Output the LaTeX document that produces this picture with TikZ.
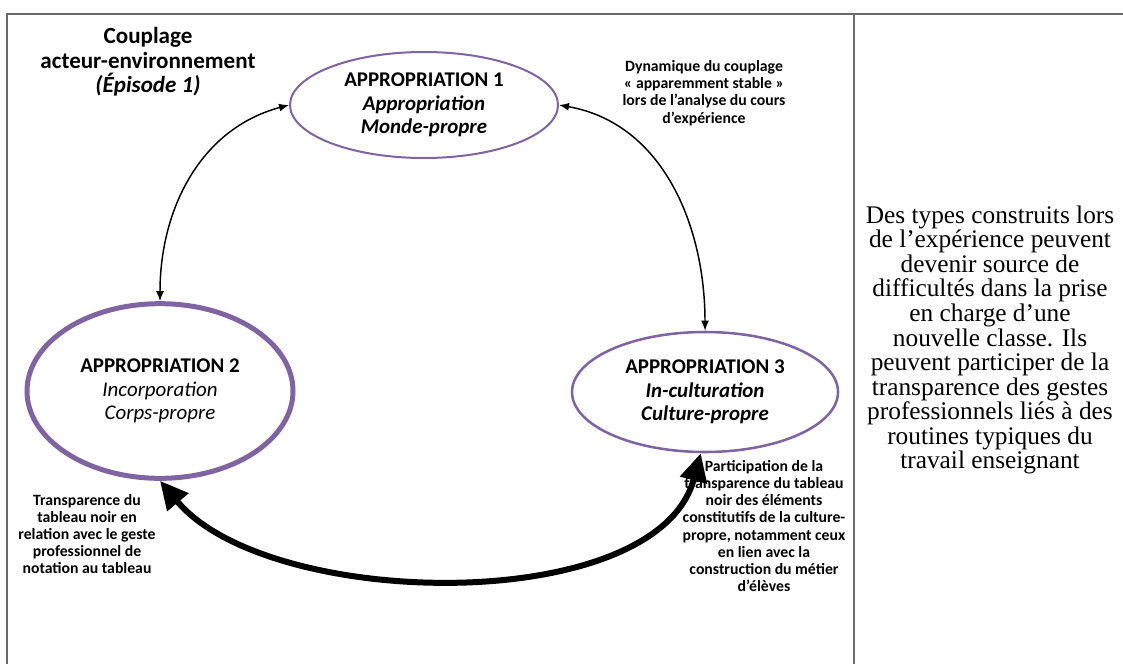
\documentclass[tikz,border=0pt]{standalone}
\usepackage{fontspec}
\setmainfont{Liberation Serif}
\newfontfamily\calibri{Carlito}
\usetikzlibrary{arrows.meta,shapes.geometric}
\definecolor{appviolet}{HTML}{8064A2}
\definecolor{framegray}{HTML}{6A6A6A}

\begin{document}
\begin{tikzpicture}[x=0.75pt, y=-0.75pt,
    appr/.style={ellipse, draw=appviolet, inner sep=0pt, align=center,
      font=\calibri\fontsize{15.7}{17.5}\selectfont},
    smalllab/.style={align=center, font=\calibri\bfseries\fontsize{11.8}{12.9}\selectfont},
    thinarrow/.style={{Latex[length=7.5pt,width=6pt]}-{Latex[length=7.5pt,width=6pt]}, line width=1.1pt},
    thickarrow/.style={{Triangle[length=21pt,width=20pt]}-{Triangle[length=21pt,width=20pt]}, line width=4.5pt}]
  % page size (1px = 0.75pt)
  \useasboundingbox (0,0) rectangle (1123,664);

  % Frame and column divider
  \draw[framegray, line width=1.5pt] (7,664) -- (7,14) -- (1123,14);
  \draw[framegray, line width=1.5pt] (854,14) -- (854,664);

  % Title
  \node[align=center, font=\calibri\bfseries\fontsize{17.3}{18.4}\selectfont] (title) at (148,62)
    {Couplage\\acteur-environnement\\\textit{(Épisode 1)}};

  % The three appropriations
  \node[appr, line width=1.5pt, minimum width=201pt, minimum height=79.5pt] (a1) at (424,105)
    {\textbf{APPROPRIATION 1}\\\textbf{\textit{Appropriation}}\\\textbf{\textit{Monde-propre}}};
  \node[appr, line width=3.75pt, minimum width=199.5pt, minimum height=131pt] (a2) at (160,391)
    {\textbf{APPROPRIATION 2}\\\textit{Incorporation}\\\textit{Corps-propre}};
  \node[appr, line width=1.9pt, minimum width=199.5pt, minimum height=90pt] (a3) at (705,392)
    {\textbf{APPROPRIATION 3}\\\textbf{\textit{In-culturation}}\\\textbf{\textit{Culture-propre}}};

  % Thin two-way arrows
  \draw[thinarrow] (a2.north) to[out=90, in=195] (a1.west);
  \draw[thinarrow] (a1.east) to[out=-10, in=90] (a3.north);

  % Thick two-way arrow below
  \draw[thickarrow] (a2.south) to[out=-50, in=-105, looseness=0.8] (a3.266);

  % Labels
  \node[smalllab] (dyn) at (704,93)
    {Dynamique du couplage\\« apparemment stable »\\lors de l’analyse du cours\\d’expérience};
  \node[smalllab] (transp) at (87,534)
    {Transparence du\\tableau noir en\\relation avec le geste\\professionnel de\\notation au tableau};
  \node[smalllab] (partic) at (764,526)
    {Participation de la\\transparence du tableau\\noir des éléments\\constitutifs de la culture-\\propre, notamment ceux\\en lien avec la\\construction du métier\\d’élèves};

  % Right column comment
  \node[align=center, font=\fontsize{19}{18.4}\selectfont] (side) at (990,340)
    {Des types construits lors\\de l'expérience peuvent\\devenir source de\\difficultés dans la prise\\en charge d'une\\nouvelle classe. Ils\\peuvent participer de la\\transparence des gestes\\professionnels liés à des\\routines typiques du\\travail enseignant};
\end{tikzpicture}
\end{document}
